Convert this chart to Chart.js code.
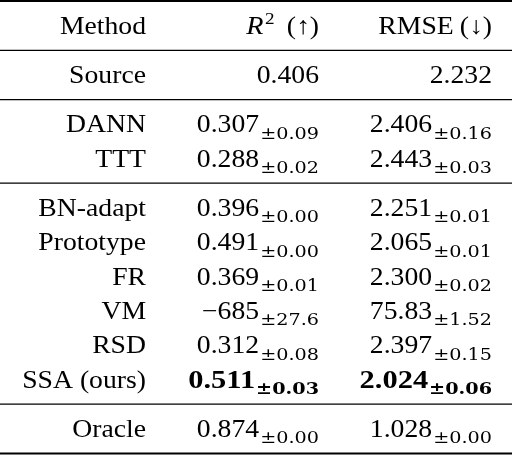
<!DOCTYPE html>
<html>
<head>
<meta charset="utf-8">
<script src="https://cdn.jsdelivr.net/npm/chart.js@4.4.1/dist/chart.umd.min.js"></script>
<style>
  html, body { margin: 0; padding: 0; background: #fff; }
  canvas { display: block; }
  .warm { position: absolute; left: -999px; top: 0; font-size: 20px; }
</style>
</head>
<body>
<span class="warm" style="font-family:'Liberation Serif'">Ab 0.1</span>
<span class="warm" style="font-family:'Liberation Serif';font-weight:bold">Ab 0.1</span>
<span class="warm" style="font-family:'Liberation Serif';font-style:italic">Ab 0.1</span>
<span class="warm" style="font-family:'DejaVu Serif'">Ab 0.1</span>
<span class="warm" style="font-family:'DejaVu Serif';font-weight:bold">Ab 0.1</span>
<canvas id="table" width="512" height="456"></canvas>
<script>
// Table values
const methods = ["Source", "DANN", "TTT", "BN-adapt", "Prototype", "FR", "VM", "RSD", "SSA (ours)", "Oracle"];
const methodGroup = [0, 1, 1, 2, 2, 2, 2, 2, 2, 3];
const r2Mean = [0.406, 0.307, 0.288, 0.396, 0.491, 0.369, -685, 0.312, 0.511, 0.874];
const r2Std = [null, 0.09, 0.02, 0.00, 0.00, 0.01, 27.6, 0.08, 0.03, 0.00];
const rmseMean = [2.232, 2.406, 2.443, 2.251, 2.065, 2.300, 75.83, 2.397, 2.024, 1.028];
const rmseStd = [null, 0.16, 0.03, 0.01, 0.01, 0.02, 1.52, 0.15, 0.06, 0.00];
const boldMethod = "SSA (ours)";

// Row layout in "row units": 1 between rows of a block, GAP across a rule
const GAP = 1.435;
const headerY = GAP / 2;
const ruleY = [0, GAP];
const rowY = [];
methods.forEach((m, i) => {
  if (i > 0 && methodGroup[i] !== methodGroup[i - 1]) {
    ruleY.push(rowY[i - 1] + GAP / 2);
  }
  if (i === 0 || methodGroup[i] !== methodGroup[i - 1]) {
    rowY.push(ruleY[ruleY.length - 1] + GAP / 2);
  } else {
    rowY.push(rowY[i - 1] + 1);
  }
});
ruleY.push(rowY[rowY.length - 1] + GAP / 2);
const totalY = ruleY[ruleY.length - 1];

// Fonts (LaTeX look-alike)
const SERIF = '"Liberation Serif", Tinos, "Times New Roman", Times, serif';
const SX = 1.13; // the typeset table is a bit wider than tall
const MAIN = '24.5px ' + SERIF;
const MAIN_B = 'bold 24.5px ' + SERIF;
const ITAL = 'italic 25px ' + SERIF;
const SUP = '17px ' + SERIF;
const SUB = '17px "DejaVu Serif", serif';
const SUB_B = 'bold 17px "DejaVu Serif", serif';
const BASE = 8; // baseline below row centre

const num = (v, d) => (v < 0 ? "\u2212" : "") + Math.abs(v).toFixed(d);

function cell(mean, std, meanDigits, bold) {
  const segs = [{ text: num(mean, meanDigits), font: bold ? MAIN_B : MAIN, sx: bold ? SX * 1.1 : SX }];
  if (std !== null) {
    segs.push({ text: "\u00B1" + num(std, std >= 10 ? 1 : 2), font: bold ? SUB_B : SUB, dy: 6.5, pad: 1 });
  }
  return segs;
}

const methodCells = methods.map(m => [{ text: m, font: MAIN }]);
const r2Cells = methods.map((m, i) =>
  cell(r2Mean[i], r2Std[i], Math.abs(r2Mean[i]) >= 100 ? 0 : 3, m === boldMethod));
const rmseCells = methods.map((m, i) =>
  cell(rmseMean[i], rmseStd[i], rmseMean[i] >= 10 ? 2 : 3, m === boldMethod));

const headers = [
  [{ text: "Method", font: MAIN }],
  [{ text: "R", font: ITAL }, { text: "2", font: SUP, dy: -10, pad: 1.5 }, { text: "(\u2191)", font: MAIN, pad: 12 }],
  [{ text: "RMSE", font: MAIN }, { text: "(\u2193)", font: MAIN, pad: 6 }]
];

// draw a run of text pieces so that it ends at xRight
function drawRight(ctx, segs, xRight, yBase) {
  let total = 0;
  segs.forEach(s => {
    ctx.font = s.font;
    s.w = ctx.measureText(s.text).width * (s.sx || SX) + (s.pad || 0);
    total += s.w;
  });
  let x = xRight - total;
  segs.forEach(s => {
    ctx.save();
    ctx.font = s.font;
    ctx.translate(x + (s.pad || 0), yBase + (s.dy || 0));
    ctx.scale(s.sx || SX, 1);
    ctx.fillText(s.text, 0, 0);
    ctx.restore();
    x += s.w;
  });
}

const tablePlugin = {
  id: "tableText",
  afterDatasetsDraw(chart) {
    const ctx = chart.ctx;
    const xs = chart.scales.x, ys = chart.scales.y;
    ctx.save();
    ctx.fillStyle = "#000";
    ctx.strokeStyle = "#000";
    ctx.textAlign = "left";
    ctx.textBaseline = "alphabetic";

    // horizontal rules (booktabs style)
    ruleY.forEach((r, i) => {
      const py = ys.getPixelForValue(r);
      ctx.lineWidth = (i === 0 || i === ruleY.length - 1) ? 2.2 : 1.2;
      ctx.beginPath();
      ctx.moveTo(0, py);
      ctx.lineTo(chart.width, py);
      ctx.stroke();
    });

    // header row
    headers.forEach((h, c) => {
      drawRight(ctx, h, xs.getPixelForValue(c), ys.getPixelForValue(headerY) + BASE);
    });

    // body cells, placed at each point of each dataset
    chart.data.datasets.forEach((ds, di) => {
      const meta = chart.getDatasetMeta(di);
      meta.data.forEach((pt, i) => {
        drawRight(ctx, ds.cells[i], pt.x, pt.y + BASE);
      });
    });
    ctx.restore();
  }
};

function makeChart() {
  const ctx = document.getElementById("table").getContext("2d");
  new Chart(ctx, {
    type: "scatter",
    data: {
      datasets: [
        { label: "Method", cells: methodCells, data: methods.map((m, i) => ({ x: 0, y: rowY[i] })) },
        { label: "R2", cells: r2Cells, data: methods.map((m, i) => ({ x: 1, y: rowY[i] })) },
        { label: "RMSE", cells: rmseCells, data: methods.map((m, i) => ({ x: 2, y: rowY[i] })) }
      ]
    },
    options: {
      responsive: false,
      animation: false,
      devicePixelRatio: 1,
      layout: { padding: { left: 146, right: 20, top: 1, bottom: 2.5 } },
      elements: { point: { radius: 0, hoverRadius: 0 } },
      plugins: { legend: { display: false }, tooltip: { enabled: false } },
      events: [],
      scales: {
        x: { type: "linear", min: 0, max: 2, display: false },
        y: { type: "linear", min: 0, max: totalY, reverse: true, display: false }
      }
    },
    plugins: [tablePlugin]
  });
}

const fontList = [MAIN, MAIN_B, ITAL, SUB, SUB_B];
Promise.all(fontList.map(f => document.fonts.load(f, "0.1Ab")))
  .catch(() => null)
  .then(() => document.fonts.ready)
  .then(makeChart);
</script>
</body>
</html>
